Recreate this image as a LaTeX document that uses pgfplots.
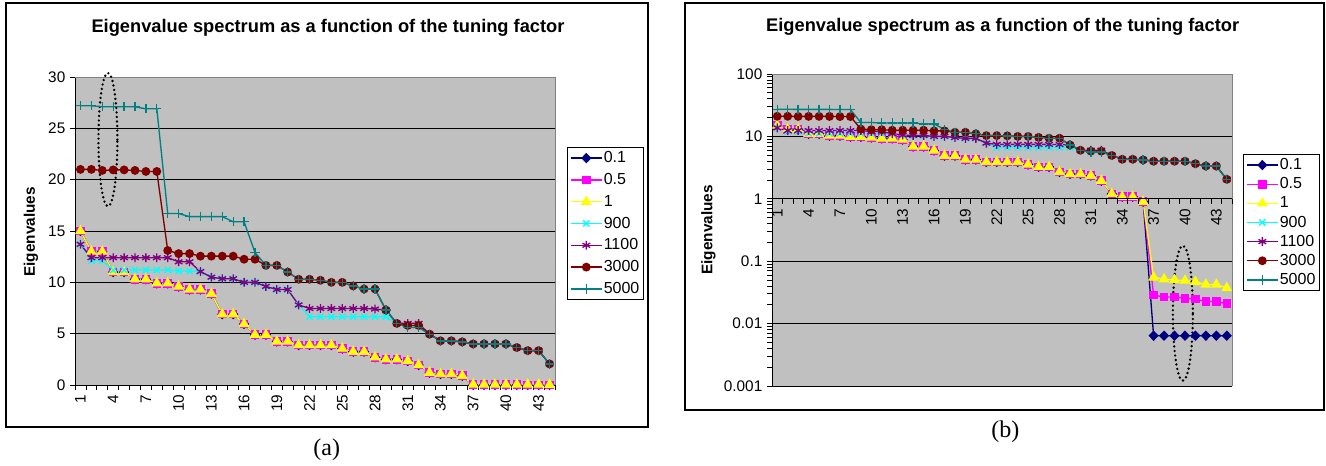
\documentclass[border=0pt]{standalone}
\usepackage{pgfplots}
\pgfplotsset{compat=1.18}
\usepackage{pgfplotstable}
\usepackage{fontspec}
\setmainfont{Liberation Sans}
\newfontfamily\capfont{Liberation Serif}

\definecolor{exbg}{RGB}{192,192,192}
\definecolor{exnavy}{RGB}{0,0,128}
\definecolor{exmag}{RGB}{255,0,255}
\definecolor{exyel}{RGB}{255,255,0}
\definecolor{excyan}{RGB}{0,255,255}
\definecolor{expurple}{RGB}{128,0,128}
\definecolor{exred}{RGB}{128,0,0}
\definecolor{exteal}{RGB}{0,128,128}

% eigenvalues per tuning factor, index 1..44
\pgfplotstableread{
i  a01    a05    a1     a900   a1100  a3000  a5000
1  15.0   15.0   15.0   13.7   13.7   21.0   27.2
2  13.0   13.0   13.0   12.1   12.4   21.0   27.2
3  13.0   13.0   13.0   12.1   12.4   20.9   27.1
4  11.0   11.0   11.0   11.2   12.4   20.95  27.1
5  11.0   11.0   11.0   11.2   12.4   20.95  27.1
6  10.3   10.3   10.3   11.2   12.4   20.9   27.1
7  10.3   10.3   10.3   11.2   12.4   20.8   26.9
8  9.9    9.9    9.9    11.2   12.4   20.8   26.9
9  9.9    9.9    9.9    11.2   12.4   13.1   16.7
10 9.6    9.6    9.6    11.1   12.0   12.8   16.7
11 9.3    9.3    9.3    11.1   12.0   12.8   16.4
12 9.3    9.3    9.3    11.05  11.05  12.55  16.4
13 8.9    8.9    8.9    10.5   10.5   12.55  16.4
14 6.9    6.9    6.9    10.35  10.35  12.55  16.4
15 6.9    6.9    6.9    10.35  10.35  12.55  15.9
16 5.95   5.95   5.95   10.0   10.0   12.25  15.9
17 4.9    4.9    4.9    10.0   10.0   12.25  12.9
18 4.9    4.9    4.9    9.6    9.6    11.65  11.65
19 4.25   4.25   4.25   9.3    9.3    11.65  11.65
20 4.25   4.25   4.25   9.3    9.3    11.0   11.0
21 3.9    3.9    3.9    7.8    7.8    10.3   10.3
22 3.9    3.9    3.9    6.65   7.45   10.3   10.3
23 3.9    3.9    3.9    6.65   7.45   10.2   10.2
24 3.9    3.9    3.9    6.65   7.45   10.0   10.0
25 3.55   3.55   3.55   6.65   7.45   10.0   10.0
26 3.25   3.25   3.25   6.65   7.45   9.65   9.65
27 3.25   3.25   3.25   6.65   7.45   9.35   9.35
28 2.7    2.7    2.7    6.65   7.4    9.35   9.35
29 2.5    2.5    2.5    6.65   7.3    7.3    7.3
30 2.5    2.5    2.5    6.0    6.0    6.0    6.0
31 2.35   2.35   2.35   5.8    6.0    5.8    5.6
32 1.95   1.95   1.95   5.8    6.0    5.8    5.6
33 1.2    1.2    1.2    4.95   4.95   4.95   4.95
34 1.08   1.08   1.08   4.3    4.3    4.3    4.3
35 1.08   1.08   1.08   4.3    4.3    4.3    4.3
36 0.9    0.9    0.9    4.2    4.2    4.2    4.2
37 0.0064 0.0285 0.055  4.0    4.0    4.0    4.0
38 0.0064 0.0268 0.0515 4.0    4.0    4.0    4.0
39 0.0064 0.0265 0.050  4.0    4.0    4.0    4.0
40 0.0064 0.0255 0.049  4.0    4.0    4.0    4.0
41 0.0064 0.0246 0.0466 3.65   3.65   3.65   3.65
42 0.0064 0.0226 0.0423 3.35   3.35   3.35   3.35
43 0.0064 0.0226 0.0423 3.35   3.35   3.35   3.35
44 0.0064 0.0208 0.0373 2.05   2.05   2.05   2.05
}\eig

\tikzset{ring/.style={black, line width=2pt, line cap=round, dash pattern=on 0pt off 3.4pt}}

\pgfplotsset{
  excel/.style={
    scale only axis, clip=false,
    xmin=0.5, xmax=44.5,
    axis background/.style={fill=exbg},
    ymajorgrids, major grid style={black, line width=0.6pt},
    tick align=outside, major tick length=3.75pt, minor tick length=3.75pt,
    ytick style={black, line width=0.6pt},
    ticklabel style={font=\fontsize{11.5}{13}\selectfont},
    /pgf/number format/assume math mode=true,
    every axis plot/.append style={line width=1pt},
    legend cell align=left,
    legend image code/.code={\draw[mark repeat=2,mark phase=2]
      plot coordinates {(0pt,0pt) (11.6pt,0pt) (23.2pt,0pt)};},
  },
  xcats/.style={
    xtick={1,4,...,43},
    minor xtick={0.5,1.5,...,44.5},
    major x tick style={draw=none},
    minor x tick style={black, line width=0.6pt},
    xticklabel style={rotate=90, anchor=east},
  },
  s01/.style={exnavy, mark=diamond*, mark size=3.2pt, mark options={fill=exnavy, xscale=1.3}},
  s05/.style={exmag, mark=square*, mark size=2.7pt, mark options={fill=exmag}},
  s1/.style={exyel, mark=triangle*, mark size=3.7pt, mark options={fill=exyel}},
  s900/.style={excyan, mark=x, mark size=3.3pt},
  s1100/.style={expurple, mark=asterisk, mark size=3.3pt},
  s3000/.style={exred, mark=*, mark size=2.8pt, mark options={fill=exred}},
  s5000/.style={exteal, mark=+, mark size=3.5pt},
}

\begin{document}
\begin{tikzpicture}
\path[use as bounding box] (0pt,0pt) rectangle (994.5pt,-349.5pt);

% ---------------- panel (a) ----------------
\draw[black, line width=1pt] (4.5pt,-2.25pt) rectangle (486pt,-320.25pt);
\node[font=\bfseries\fontsize{13.7}{15}\selectfont] at (246pt,-21pt)
  {Eigenvalue spectrum as a function of the tuning factor};
\node[rotate=90, font=\bfseries\fontsize{11.5}{13}\selectfont] at (23.25pt,-174pt) {Eigenvalues};
\node[font=\capfont\fontsize{18}{20}\selectfont] at (245pt,-337.5pt) {(a)};

\begin{axis}[excel, xcats,
    at={(56.25pt,-288.75pt)}, anchor=south west,
    width=360pt, height=231pt,
    ymin=0, ymax=30, ytick={0,5,...,30},
    axis x line*=bottom, axis y line*=left,
    axis line style={black, line width=0.75pt, -},
    legend style={at={(axis description cs:1.025,0.7727)}, anchor=north west,
      draw=black, line width=0.75pt, fill=white,
      font=\fontsize{12}{14}\selectfont, row sep=4.5pt,
      inner sep=2pt, nodes={inner sep=1pt}},
  ]
  \draw[gray, line width=0.6pt] (rel axis cs:0,1) -- (rel axis cs:1,1) -- (rel axis cs:1,0);
  \addplot[s01] table[x=i, y=a01] {\eig};
  \addplot[s05] table[x=i, y=a05] {\eig};
  \addplot[s1] table[x=i, y=a1] {\eig};
  \addplot[s900] table[x=i, y=a900] {\eig};
  \addplot[s1100] table[x=i, y=a1100] {\eig};
  \addplot[s3000] table[x=i, y=a3000] {\eig};
  \addplot[s5000] table[x=i, y=a5000] {\eig};
  \legend{0.1,0.5,1,900,1100,3000,5000}
  \draw[ring] (axis cs:3.52,23.9) ellipse [x radius=7.1pt, y radius=50pt];
\end{axis}

% ---------------- panel (b) ----------------
\draw[black, line width=1pt] (513.75pt,-2.25pt) rectangle (993pt,-307.5pt);
\node[font=\bfseries\fontsize{13.7}{15}\selectfont] at (752pt,-20.25pt)
  {Eigenvalue spectrum as a function of the tuning factor};
\node[rotate=90, font=\bfseries\fontsize{11.5}{13}\selectfont] at (531.4pt,-172.5pt) {Eigenvalues};
\node[font=\capfont\fontsize{18}{20}\selectfont] at (754pt,-324pt) {(b)};

\begin{axis}[excel,
    at={(579pt,-289.5pt)}, anchor=south west,
    width=345pt, height=234pt,
    ymode=log, ymin=0.001, ymax=100,
    ytick={0.001,0.01,0.1,1,10,100},
    yticklabels={0.001,0.01,0.1,1,10,100},
    xtick=\empty,
    axis x line=none, axis y line*=left,
    axis line style={black, line width=0.75pt, -},
    legend style={at={(axis description cs:1.024,0.7436)}, anchor=north west,
      draw=black, line width=0.75pt, fill=white,
      font=\fontsize{12}{14}\selectfont, row sep=2.5pt,
      inner sep=2pt, nodes={inner sep=1pt}},
  ]
  \draw[gray, line width=0.6pt] (rel axis cs:0,1) -- (rel axis cs:1,1) -- (rel axis cs:1,0);
  \addplot[s01] table[x=i, y=a01] {\eig};
  \addplot[s05] table[x=i, y=a05] {\eig};
  \addplot[s1] table[x=i, y=a1] {\eig};
  \addplot[s900] table[x=i, y=a900] {\eig};
  \addplot[s1100] table[x=i, y=a1100] {\eig};
  \addplot[s3000] table[x=i, y=a3000] {\eig};
  \addplot[s5000] table[x=i, y=a5000] {\eig};
  \legend{0.1,0.5,1,900,1100,3000,5000}
  \draw[ring] (axis cs:39.8,0.0147) ellipse [x radius=7.5pt, y radius=50.6pt];
\end{axis}

% category axis of panel (b), drawn at y = 1
\begin{axis}[excel, xcats,
    at={(579pt,-149.25pt)}, anchor=south west,
    width=345pt, height=93.75pt,
    ymin=0, ymax=1, ytick=\empty, ymajorgrids=false,
    axis background/.style={},
    axis x line*=bottom, axis y line=none,
    axis line style={black, line width=0.75pt, -},
  ]
\end{axis}
\end{tikzpicture}
\end{document}
